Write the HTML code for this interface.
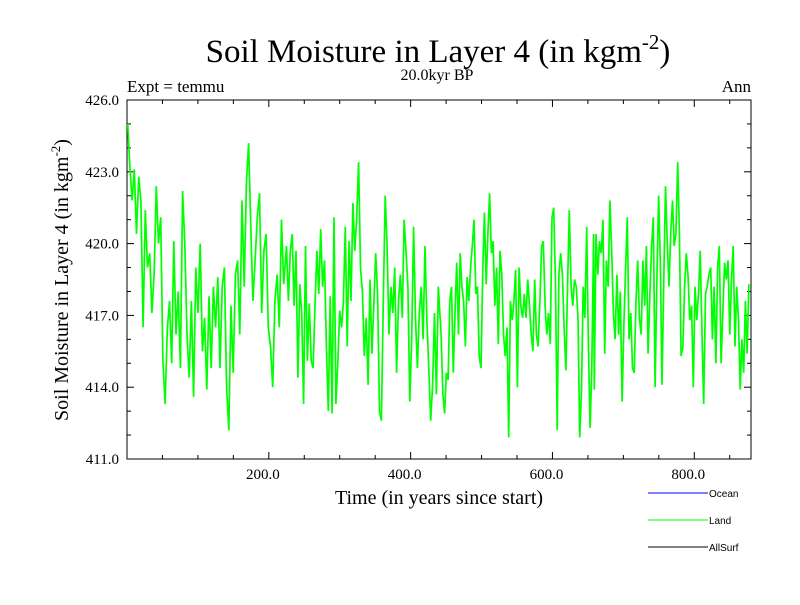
<!DOCTYPE html>
<html><head><meta charset="utf-8"><style>
body{margin:0;background:#fff}
svg text{font-family:"Liberation Serif",serif;fill:#000}
</style></head><body>
<svg id="chart" width="800" height="600" xmlns="http://www.w3.org/2000/svg">
<text x="438" y="62" font-size="33" text-anchor="middle">Soil Moisture in Layer 4 (in kgm<tspan dy="-13" font-size="21">-2</tspan><tspan dy="13">)</tspan></text>
<text x="437" y="80" font-size="16" text-anchor="middle">20.0kyr BP</text>
<text x="127" y="92" font-size="17">Expt = temmu</text>
<text x="751" y="92" font-size="17" text-anchor="end">Ann</text>
<text transform="translate(68,280) rotate(-90)" font-size="20" text-anchor="middle">Soil Moisture in Layer 4 (in kgm<tspan dy="-8" font-size="13">-2</tspan><tspan dy="8">)</tspan></text>
<text x="439" y="504" font-size="20" text-anchor="middle">Time (in years since start)</text>
<g id="axes"></g>
<g id="series"></g>
<g id="legend"></g>
</svg>
<script>
const yTicks=[411,414,417,420,423,426];
const xTicks=[200,400,600,800];
const legendLabels=["Ocean","Land","AllSurf"];
const legendColors=["#0000ff","#00ff00","#000000"];
const segStart=[1,225,443,659];
const segEnd=[221,439,658,877];
const seg1=[425,423.2,421.8,423.1,420.4,422.8,421.8,416.5,421.4,419.0,419.6,417.1,418.7,422.4,420.0,421.1,415.1,413.3,416.4,417.6,415.0,420.1,416.2,418.0,414.8,422.2,420.0,416.2,414.4,417.6,413.6,419.0,417.1,420.0,415.5,416.9,413.9,417.8,414.8,418.2,416.5,418.6,414.8,418.2,419.0,414.0,412.2,417.4,414.6,418.7,419.3,416.2,421.8,418.2,422.5,424.2,420.7,417.6,419.3,421.1,422.1,417.1,419.7,420.4,416.5,415.7,414.0,417.6,418.7,416.5,421.0,418.3];
const seg2=[419.9,417.6,419.7,420.4,417.4,419.7,414.4,418.3,417.1,413.3,419.9,415.1,417.5,415.1,414.8,417.4,419.7,417.9,420.6,418.2,419.3,415.7,413.0,417.8,412.9,421.1,413.3,415.0,417.2,416.5,417.6,420.7,415.7,420.1,417.6,421.7,419.7,421.1,423.4,419.0,418.0,415.3,416.9,414.1,418.5,415.4,417.4,419.6,417.9,413.0,412.6,417.6,422.0,419.9,416.2,418.2,417.1,419.0,414.6,417.6,418.7,416.9,421.0,419.7,418.2,413.4,416.0,420.7,416.9,414.8,417.1,418.2,416.0,419.9,416.8,414.8,412.6,414.1,417.1,413.7,418.2];
const seg3=[416.2,413.7,412.9,414.6,414.3,417.6,418.2,414.6,417.1,419.2,416.2,419.6,418.2,417.6,415.7,418.6,417.6,419.0,419.9,421.0,417.9,418.2,415.3,414.8,418.7,421.3,418.3,420.4,422.1,419.6,420.1,417.4,419.0,415.8,419.7,418.7,416.2,415.3,416.5,411.9,417.6,416.8,417.6,418.9,414.0,419.0,417.4,416.9,417.9,416.9,418.5,417.4,416.2,415.5,418.5,416.2,415.7,417.6,419.9,420.1,417.4,416.2,417.1,415.8,421.1,421.5,418.3,412.2,418.7,419.6,418.7,416.5,414.7,418.3,421.4,418.2,417.4,418.5,418.2,416.9,411.9,413.9,418.2,416.9,420.7,415.7,412.3,414.8,420.4];
const seg4=[413.9,420.4,418.7,420.1,419.6,421.0,415.4,419.3,418.2,421.8,419.7,417.1,416.0,418.7,416.2,418.0,413.4,416.5,419.0,421.1,416.0,417.1,414.8,414.6,417.6,419.3,416.9,416.2,419.3,417.4,419.9,415.4,417.9,419.9,421.1,414.0,418.3,422.0,419.3,414.1,418.5,422.4,420.1,418.2,420.4,421.8,419.9,420.4,423.4,420.4,415.3,415.7,418.2,419.6,418.6,416.8,417.4,414.0,418.2,416.8,417.9,419.7,416.2,413.3,417.9,418.2,418.7,419.0,416.0,418.2,415.0,419.0,419.9,415.0,417.1,419.2,418.5,419.3,416.2,418.5,419.9,415.7,418.2,416.8,413.9,416.0,414.6,417.6,415.4,418.3];
const segments=[seg1,seg2,seg3,seg4];

const L=127,R=751,T=100,B=459,XMIN=0,XMAX=880,YMIN=411,YMAX=426;
const xs=v=>L+(v-XMIN)/(XMAX-XMIN)*(R-L);
const ys=v=>B-(v-YMIN)/(YMAX-YMIN)*(B-T);
const NS="http://www.w3.org/2000/svg";
const axes=document.getElementById('axes');
function mk(tag,attrs,parent){const e=document.createElementNS(NS,tag);for(const k in attrs)e.setAttribute(k,attrs[k]);parent.appendChild(e);return e;}
for(let v=50;v<XMAX;v+=50){const major=v%200===0;const len=major?7:4;
 const t1=mk('line',{x1:xs(v),x2:xs(v),y1:B,y2:B-len,stroke:'#000','stroke-width':1},axes);
 
 
 const t2=mk('line',{x1:xs(v),x2:xs(v),y1:T,y2:T+len,stroke:'#000','stroke-width':1},axes);
 
 }
for(let v=YMIN+1;v<YMAX;v+=1){const major=(v-YMIN)%3===0;const len=major?7:4;
 const t1=mk('line',{x1:L,x2:L+len,y1:ys(v),y2:ys(v),stroke:'#000','stroke-width':1},axes);
 
 
 const t2=mk('line',{x1:R,x2:R-len,y1:ys(v),y2:ys(v),stroke:'#000','stroke-width':1},axes);
 
 }
xTicks.forEach(v=>{const t=mk('text',{x:xs(v)-6,y:B+20,'font-size':15,'text-anchor':'middle'},axes);t.textContent=v.toFixed(1);
 
 });
yTicks.forEach(v=>{const t=mk('text',{x:L-8,y:ys(v)+5,'font-size':15,'text-anchor':'end'},axes);t.textContent=v.toFixed(1);
 
 });
let pts=[];
segments.forEach((s,i)=>{const n=s.length;s.forEach((v,j)=>{const yr=segStart[i]+(segEnd[i]-segStart[i])*j/(n-1);pts.push(xs(yr).toFixed(1)+','+ys(v).toFixed(1));});});
const line=mk('polyline',{points:pts.join(' '),fill:'none',stroke:'#00ff00','stroke-width':1.7,'stroke-linejoin':'miter'},document.getElementById('series'));


const frame=mk('rect',{x:L,y:T,width:R-L,height:B-T,fill:'none',stroke:'#000','stroke-width':1},axes);


const lg=document.getElementById('legend');
legendLabels.forEach((lab,i)=>{const y=493+i*27;
 const l=mk('line',{x1:648,x2:708,y1:y,y2:y,stroke:legendColors[i],'stroke-width':1},lg);
 
 
 const t=mk('text',{x:709,y:y+4,'font-size':10,style:'font-family:"Liberation Sans",sans-serif'},lg);t.textContent=lab;
 
 });
</script>
</body></html>
